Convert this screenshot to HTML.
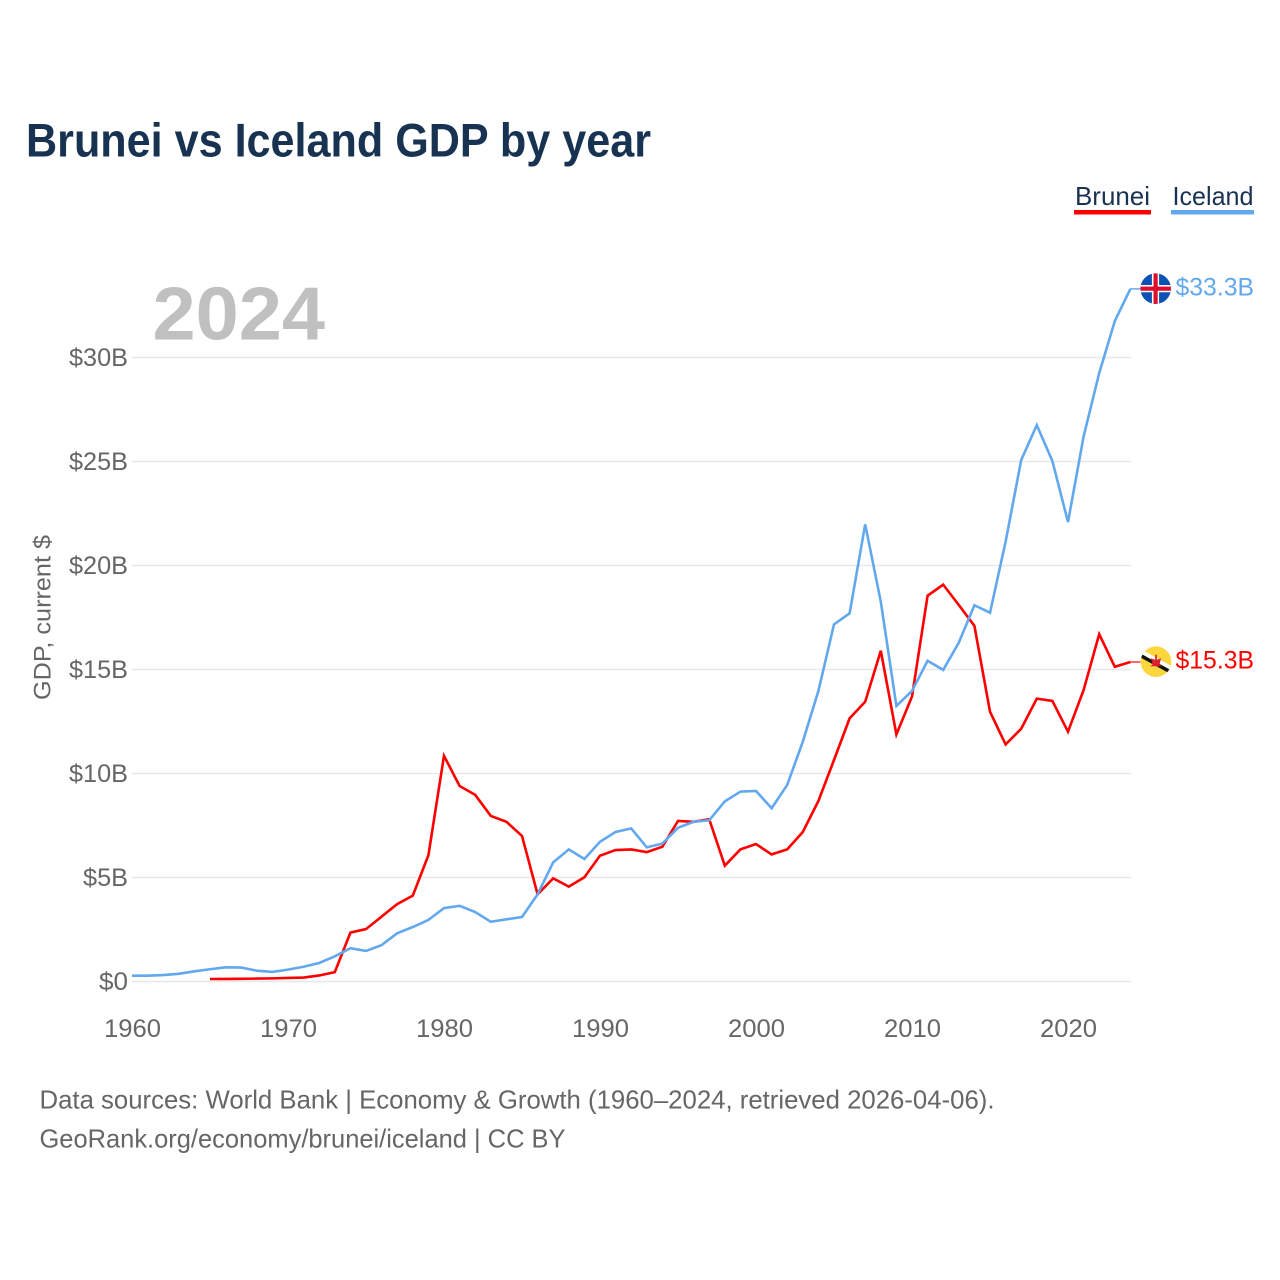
<!DOCTYPE html>
<html lang="en">
<head>
<meta charset="utf-8">
<title>Brunei vs Iceland GDP by year</title>
<style>
html,body{margin:0;padding:0;background:#fff;}
svg{display:block;font-family:"Liberation Sans",sans-serif;}
</style>
</head>
<body>
<svg id="chart" xmlns="http://www.w3.org/2000/svg" width="1280" height="1280" viewBox="0 0 1280 1280">
  <defs>
    <clipPath id="clip-is"><circle cx="0" cy="0" r="15.3"/></clipPath>
    <clipPath id="clip-bn"><circle cx="0" cy="0" r="15.3"/></clipPath>
  </defs>
  <rect x="0" y="0" width="1280" height="1280" fill="#fff"/>
  <text x="26" y="156.5" font-size="47" font-weight="700" fill="#183252" textLength="625" lengthAdjust="spacingAndGlyphs">Brunei vs Iceland GDP by year</text>

  <g>
    <g>
      <text x="1075" y="205" font-size="26" fill="#183252" textLength="75" lengthAdjust="spacingAndGlyphs">Brunei</text>
      <rect x="1074" y="210" width="77" height="4.5" fill="#ff0000"/>
    </g>
    <g>
      <text x="1172.5" y="205" font-size="26" fill="#183252" textLength="81" lengthAdjust="spacingAndGlyphs">Iceland</text>
      <rect x="1171" y="210" width="83" height="4.5" fill="#62a8ee"/>
    </g>
  </g>

  <text x="152.5" y="339.5" font-size="75" font-weight="700" fill="#c0c0c0" textLength="172.5" lengthAdjust="spacingAndGlyphs">2024</text>
  <text transform="translate(50.5 700) rotate(-90)" font-size="24" fill="#666" textLength="165" lengthAdjust="spacingAndGlyphs">GDP, current $</text>

  <g id="grid"></g>
  <g id="yticks"></g>
  <g id="xticks"></g>
  <g id="series"></g>

  <g id="flag-is">
    <g clip-path="url(#clip-is)">
      <rect x="-16" y="-16" width="32" height="32" fill="#0b52b4"/>
      <rect x="-3.8" y="-16" width="7.2" height="32" fill="#fff"/>
      <rect x="-16" y="-3.6" width="32" height="7.2" fill="#fff"/>
      <rect x="-2.2" y="-16" width="4.2" height="32" fill="#dc0f2f"/>
      <rect x="-16" y="-2.1" width="32" height="4.2" fill="#dc0f2f"/>
    </g>
  </g>
  <g id="flag-bn">
    <g clip-path="url(#clip-bn)">
      <rect x="-16" y="-16" width="32" height="32" fill="#fdd63e"/>
      <polygon points="-16,-13 -16,-8.5 16,9 16,4.5" fill="#fff"/>
      <polygon points="-16,-8.5 -16,-4.5 16,13 16,9" fill="#111"/>
      <path d="M-0.8,-7 L0.8,-7 L0.9,-2 L5,-3.5 L3.5,3 L6,4.5 L-6,4.5 L-3.5,3 L-5,-3.5 L-0.9,-2 Z" fill="#d8202f"/>
    </g>
  </g>
  <text id="value-is" x="1175.5" y="295.5" font-size="25" fill="#62a8ee" textLength="78.5" lengthAdjust="spacingAndGlyphs"></text>
  <text id="value-bn" x="1175.5" y="668.5" font-size="25" fill="#ff0000" textLength="78.5" lengthAdjust="spacingAndGlyphs"></text>

  <text x="39.5" y="1108.5" font-size="26" fill="#666" textLength="955" lengthAdjust="spacingAndGlyphs">Data sources: World Bank | Economy &amp; Growth (1960–2024, retrieved 2026-04-06).</text>
  <text x="39.5" y="1147.5" font-size="26" fill="#666" textLength="526" lengthAdjust="spacingAndGlyphs">GeoRank.org/economy/brunei/iceland | CC BY</text>
</svg>
<script>
const yTickValues = [0, 5, 10, 15, 20, 25, 30];
const yTickLabels = ["$0", "$5B", "$10B", "$15B", "$20B", "$25B", "$30B"];
const xTickYears = [1960, 1970, 1980, 1990, 2000, 2010, 2020];
const xTickLabels = ["1960", "1970", "1980", "1990", "2000", "2010", "2020"];
const icelandStartYear = 1960;
const icelandValues = [0.28,0.28,0.31,0.37,0.49,0.59,0.68,0.67,0.52,0.46,
  0.57,0.71,0.89,1.21,1.60,1.47,1.75,2.32,2.62,2.96,
  3.53,3.64,3.34,2.87,2.99,3.10,4.19,5.73,6.35,5.89,
  6.72,7.19,7.36,6.45,6.63,7.39,7.68,7.75,8.66,9.13,
  9.16,8.33,9.45,11.53,13.97,17.17,17.70,21.98,18.26,13.25,
  13.97,15.42,14.98,16.29,18.09,17.73,21.14,25.07,26.75,25.02,
  22.09,26.20,29.25,31.75,33.30];
const bruneiStartYear = 1965;
const bruneiValues = [0.12,0.125,0.13,0.14,0.15,0.17,0.19,0.29,0.45,2.35,
  2.52,3.12,3.72,4.13,6.07,10.85,9.40,8.97,7.96,7.68,
  7.00,4.19,4.96,4.56,5.01,6.05,6.32,6.35,6.22,6.48,
  7.72,7.68,7.80,5.57,6.35,6.61,6.11,6.35,7.19,8.68,
  10.65,12.65,13.45,15.90,11.88,13.70,18.55,19.08,18.10,17.10,
  12.97,11.40,12.15,13.60,13.49,12.01,14.01,16.70,15.13,15.36];
const icelandLabel = "$33.3B";
const bruneiLabel = "$15.3B";

const NS = "http://www.w3.org/2000/svg";
function xScale(year) { return 132 + (year - 1960) * 15.6; }
function yScale(v) { return 981.5 - v * 20.8; }
function make(tag, attrs, parent) {
  const el = document.createElementNS(NS, tag);
  for (const k in attrs) el.setAttribute(k, attrs[k]);
  parent.appendChild(el);
  return el;
}
function pointsFor(values, start) {
  return values.map((v, i) => xScale(start + i).toFixed(2) + "," + yScale(v).toFixed(2)).join(" ");
}

const grid = document.getElementById("grid");
const yticks = document.getElementById("yticks");
yTickValues.forEach((v, i) => {
  const line = make("line", {x1: 132, x2: 1131, y1: yScale(v), y2: yScale(v), stroke: "#e8e8e8", "stroke-width": 1.5}, grid);
  
  
  const label = yTickLabels[i];
  const t = make("text", {x: 128, y: yScale(v) + 8.5, "font-size": 25, fill: "#666", "text-anchor": "end", textLength: label.length === 2 ? 29 : label.length === 3 ? 45 : 59, lengthAdjust: "spacingAndGlyphs"}, yticks);
  
  
  t.textContent = label;
});

const xticks = document.getElementById("xticks");
xTickYears.forEach((yr, i) => {
  const t = make("text", {x: xScale(yr) + 0.5, y: 1037, "font-size": 25, fill: "#666", "text-anchor": "middle", textLength: 57, lengthAdjust: "spacingAndGlyphs"}, xticks);
  
  
  t.textContent = xTickLabels[i];
});

const series = document.getElementById("series");
const lineBrunei = make("polyline", {points: pointsFor(bruneiValues, bruneiStartYear), fill: "none", stroke: "#ff0000", "stroke-width": 2.6, "stroke-linejoin": "miter"}, series);


const lineIceland = make("polyline", {points: pointsFor(icelandValues, icelandStartYear), fill: "none", stroke: "#62a8ee", "stroke-width": 2.6, "stroke-linejoin": "miter"}, series);



const lastIs = icelandValues[icelandValues.length - 1];
const lastBn = bruneiValues[bruneiValues.length - 1];
const xEnd = xScale(2024);
const stubIs = make("line", {x1: xEnd, x2: xEnd + 10, y1: yScale(lastIs), y2: yScale(lastIs), stroke: "#62a8ee", "stroke-width": 1.6, opacity: 0.9}, series);


const stubBn = make("line", {x1: xEnd, x2: xEnd + 10, y1: yScale(lastBn), y2: yScale(lastBn), stroke: "#ff0000", "stroke-width": 1.6, opacity: 0.75}, series);



document.getElementById("flag-is").setAttribute("transform", "translate(1155.7 " + (yScale(lastIs) - 0.2) + ")");
document.getElementById("flag-bn").setAttribute("transform", "translate(1156 " + (yScale(lastBn) - 0.3) + ")");
const valueIs = document.getElementById("value-is");
valueIs.setAttribute("y", yScale(lastIs) + 6.5);
valueIs.textContent = icelandLabel;
const valueBn = document.getElementById("value-bn");
valueBn.setAttribute("y", yScale(lastBn) + 6.5);
valueBn.textContent = bruneiLabel;
</script>
</body>
</html>
